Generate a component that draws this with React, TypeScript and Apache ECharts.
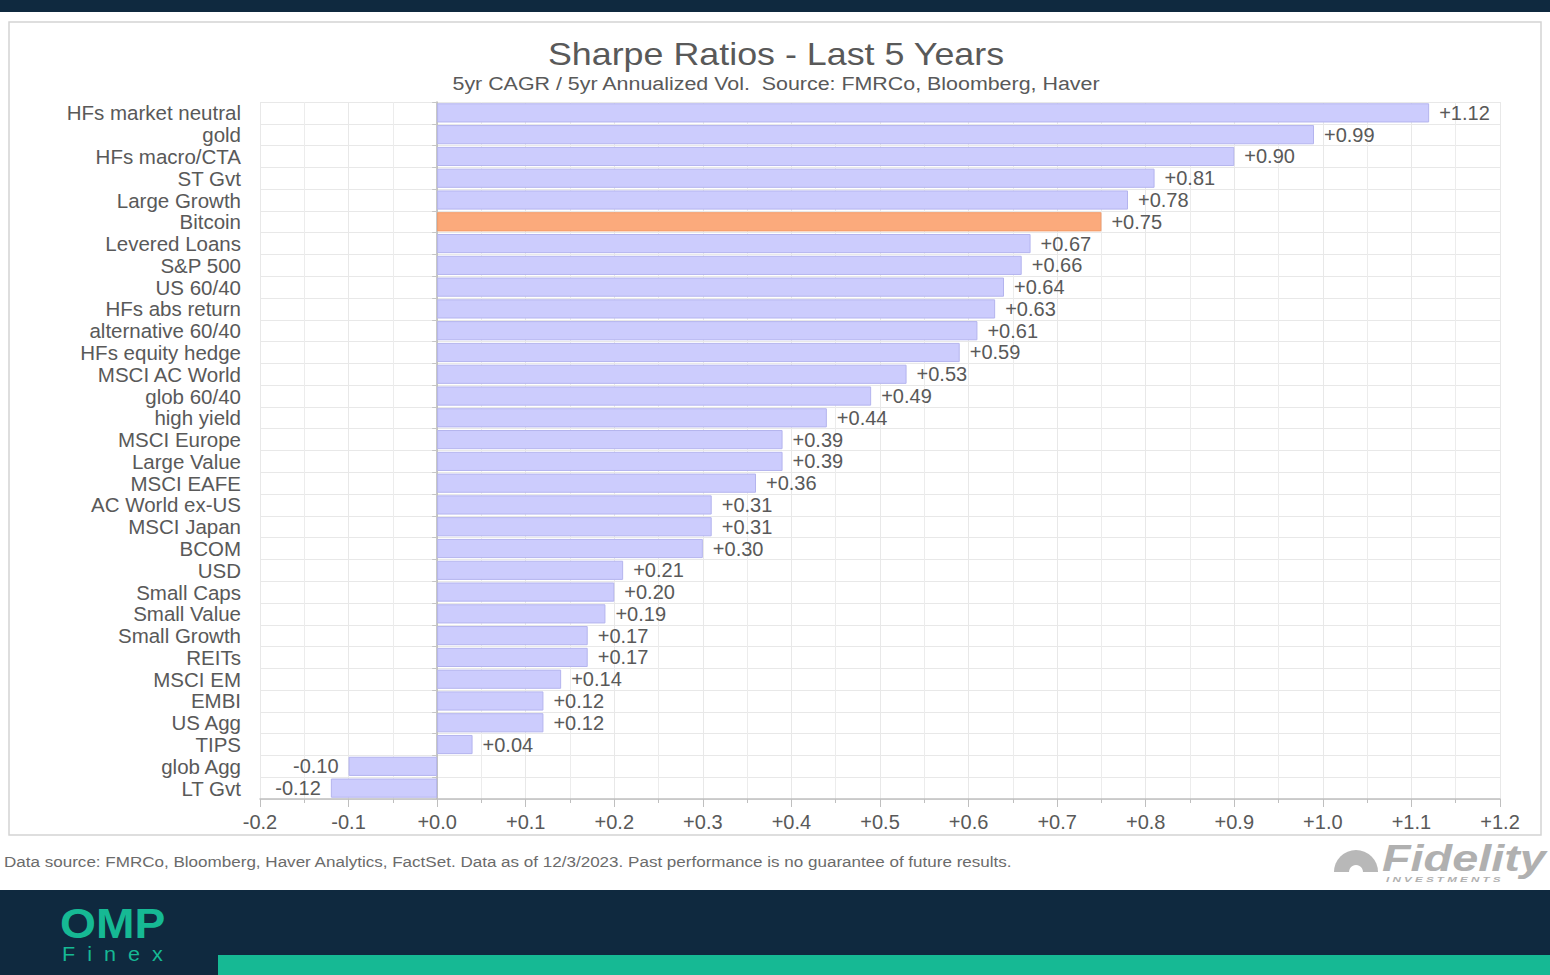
import React, { useEffect, useRef } from "react";
import * as echarts from "echarts";

const categories = [
  "HFs market neutral", "gold", "HFs macro/CTA", "ST Gvt", "Large Growth", "Bitcoin",
  "Levered Loans", "S&P 500", "US 60/40", "HFs abs return", "alternative 60/40",
  "HFs equity hedge", "MSCI AC World", "glob 60/40", "high yield", "MSCI Europe",
  "Large Value", "MSCI EAFE", "AC World ex-US", "MSCI Japan", "BCOM", "USD",
  "Small Caps", "Small Value", "Small Growth", "REITs", "MSCI EM", "EMBI", "US Agg",
  "TIPS", "glob Agg", "LT Gvt",
];
const values = [
  1.12, 0.99, 0.9, 0.81, 0.78, 0.75, 0.67, 0.66, 0.64, 0.63, 0.61, 0.59, 0.53, 0.49,
  0.44, 0.39, 0.39, 0.36, 0.31, 0.31, 0.3, 0.21, 0.2, 0.19, 0.17, 0.17, 0.14, 0.12,
  0.12, 0.04, -0.1, -0.12,
];
const highlight = "Bitcoin";
const xMin = -0.2;
const xMax = 1.2;
const xInterval = 0.1;

const FONT = "Liberation Sans, Arial, sans-serif";
const NAVY = "#0f293f";
const TEAL = "#16b994";
const TXT = "#595959";

export default function App() {
  const ref = useRef<HTMLDivElement>(null);
  useEffect(() => {
    if (!ref.current) return;
    const chart = echarts.init(ref.current, undefined, { renderer: "svg" });
    const fmt = (v: number) => (v < 0 ? "" : "+") + v.toFixed(2);
    chart.setOption({
      animation: false,
      backgroundColor: "#ffffff",
      textStyle: { fontFamily: FONT },
      graphic: [
        { type: "rect", z: -10, shape: { x: 0, y: 0, width: 1550, height: 12 }, style: { fill: NAVY } },
        { type: "rect", z: -10, shape: { x: 0, y: 890, width: 1550, height: 85 }, style: { fill: NAVY } },
        { type: "rect", z: -9, shape: { x: 218, y: 955, width: 1332, height: 20 }, style: { fill: TEAL } },
        { type: "rect", z: -9, shape: { x: 9, y: 22, width: 1532, height: 813 }, style: { fill: "none", stroke: "#d4d4d4", lineWidth: 1.5 } },
        { type: "text", x: 776, y: 54, scaleX: 1.12, style: { text: "Sharpe Ratios - Last 5 Years", font: `32px ${FONT}`, fill: TXT, align: "center", verticalAlign: "middle" } },
        { type: "text", x: 776, y: 84, scaleX: 1.19, style: { text: "5yr CAGR / 5yr Annualized Vol.  Source: FMRCo, Bloomberg, Haver", font: `18px ${FONT}`, fill: TXT, align: "center", verticalAlign: "middle" } },
        { type: "text", x: 4, y: 861, scaleX: 1.1, style: { text: "Data source: FMRCo, Bloomberg, Haver Analytics, FactSet. Data as of 12/3/2023. Past performance is no guarantee of future results.", font: `15.5px ${FONT}`, fill: "#6b6b6b", align: "left", verticalAlign: "middle" } },
        { type: "sector", x: 1356, y: 872, shape: { r0: 0, r: 22, startAngle: Math.PI, endAngle: Math.PI * 2 }, style: { fill: "#b8b8b8" } },
        { type: "circle", x: 1356, y: 872, shape: { r: 7 }, style: { fill: "#ffffff" } },
        { type: "text", x: 1382, y: 858, scaleX: 1.3, style: { text: "Fidelity", font: `italic bold 36px ${FONT}`, fill: "#b0b0b0", align: "left", verticalAlign: "middle" } },
        { type: "text", x: 1386, y: 879, scaleX: 1.45, style: { text: "I N V E S T M E N T S", font: `italic bold 8px ${FONT}`, fill: "#b0b0b0", align: "left", verticalAlign: "middle" } },
        { type: "text", x: 60, y: 923, scaleX: 1.1, style: { text: "OMP", font: `bold 42px ${FONT}`, fill: TEAL, align: "left", verticalAlign: "middle" } },
        { type: "text", x: 62, y: 954, scaleX: 1.08, style: { text: "F  i  n  e  x", font: `20px ${FONT}`, fill: TEAL, align: "left", verticalAlign: "middle" } },
      ],
      grid: { left: 260, right: 50, top: 102, bottom: 176 },
      xAxis: {
        type: "value",
        min: xMin,
        max: xMax,
        interval: xInterval,
        axisLine: { show: true, onZero: false, lineStyle: { color: "#bfbfbf", width: 1.5 } },
        axisTick: { show: true, length: 8, lineStyle: { color: "#bfbfbf" } },
        minorTick: { show: true, splitNumber: 2, length: 4, lineStyle: { color: "#bfbfbf" } },
        splitLine: { show: true, lineStyle: { color: "#e8e8e8", width: 1 } },
        minorSplitLine: { show: true, lineStyle: { color: "#ececec", width: 1 } },
        axisLabel: {
          fontSize: 20,
          color: TXT,
          margin: 13,
          formatter: (v: number) => (v < 0 ? "" : "+") + v.toFixed(1),
        },
      },
      yAxis: [
        {
          type: "category",
          data: categories,
          inverse: true,
          position: "left",
          axisLine: { show: false, onZero: false },
          axisTick: { show: false },
          splitLine: { show: true, interval: 0, lineStyle: { color: "#e8e8e8", width: 1 } },
          axisLabel: { fontSize: 20.5, color: TXT, margin: 19, interval: 0 },
        },
        {
          type: "category",
          data: categories,
          inverse: true,
          position: "left",
          axisLine: { show: true, onZero: true, lineStyle: { color: "#b5b5b5", width: 1.5 } },
          axisTick: { show: true, length: 5, interval: 0, lineStyle: { color: "#c5c5c5" } },
          axisLabel: { show: false },
          splitLine: { show: false },
        },
      ],
      series: [
        {
          type: "bar",
          yAxisIndex: 0,
          barCategoryGap: "12%",
          data: values.map((v, i) => ({
            value: v,
            itemStyle: categories[i] === highlight
              ? { color: "#fbaa7c", borderColor: "#f29a68", borderWidth: 1 }
              : { color: "#ccccfd", borderColor: "#b4b4ee", borderWidth: 1 },
            label: { position: v < 0 ? "left" : "right" },
          })),
          label: {
            show: true,
            fontSize: 20,
            color: TXT,
            distance: 10,
            formatter: (p: any) => fmt(p.value),
          },
        },
      ],
    });
    return () => chart.dispose();
  }, []);
  return (
    <div
      ref={ref}
      style={{ position: "fixed", left: 0, top: 0, width: 1550, height: 975 }}
    />
  );
}
